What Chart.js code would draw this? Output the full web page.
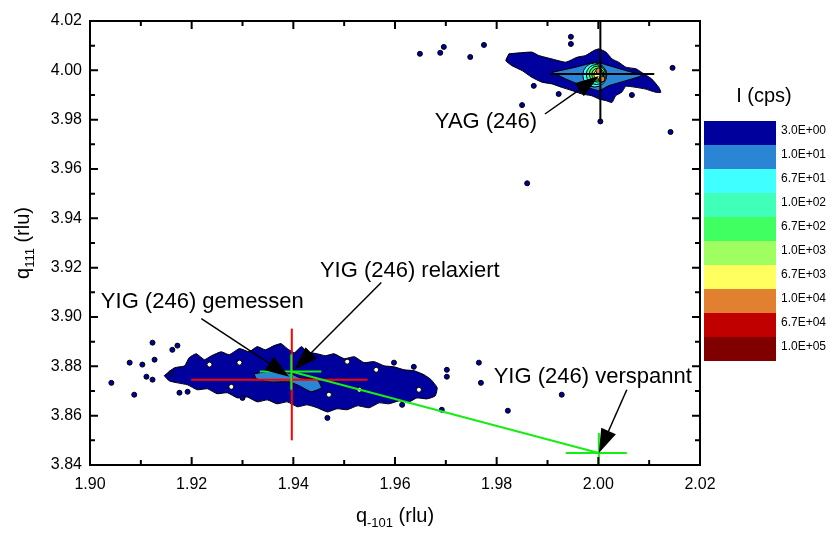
<!DOCTYPE html>
<html>
<head>
<meta charset="utf-8">
<script src="https://cdn.jsdelivr.net/npm/chart.js@4.4.1/dist/chart.umd.min.js"></script>
<style>
  html, body { margin: 0; padding: 0; background: #fff; }
  #wrap { width: 835px; height: 534px; }
</style>
</head>
<body>
<div id="wrap"><canvas id="rsm" width="835" height="534"></canvas></div>
<script>
// axes
const xTickValues = [1.90, 1.92, 1.94, 1.96, 1.98, 2.00, 2.02];
const xTickLabels = ['1.90', '1.92', '1.94', '1.96', '1.98', '2.00', '2.02'];
const yTickValues = [3.84, 3.86, 3.88, 3.90, 3.92, 3.94, 3.96, 3.98, 4.00, 4.02];
const yTickLabels = ['3.84', '3.86', '3.88', '3.90', '3.92', '3.94', '3.96', '3.98', '4.00', '4.02'];

// intensity levels (colour scale)
const levelLabels = ['3.0E+00', '1.0E+01', '6.7E+01', '1.0E+02', '6.7E+02', '1.0E+03', '6.7E+03', '1.0E+04', '6.7E+04', '1.0E+05'];
const levelColors = ['#00009c', '#2a85d4', '#40ffff', '#40ffb8', '#40ff60', '#a0ff60', '#ffff60', '#e08030', '#c00000', '#800000'];

// contour outlines (q-101, q111)
const yigOuter = [
  [1.9146,3.8762],[1.9166,3.8794],[1.9186,3.8802],[1.9195,3.8835],[1.9209,3.8851],[1.9225,3.8827],
  [1.9239,3.8843],[1.9258,3.8859],[1.9274,3.8847],[1.9294,3.8872],[1.9313,3.8859],[1.9329,3.8880],
  [1.9345,3.8867],[1.9362,3.8884],[1.9376,3.8892],[1.9388,3.8872],[1.9402,3.8855],[1.9416,3.8880],
  [1.9427,3.8859],[1.9447,3.8851],[1.9463,3.8843],[1.9480,3.8851],[1.9500,3.8831],[1.9520,3.8839],
  [1.9539,3.8815],[1.9559,3.8819],[1.9579,3.8802],[1.9598,3.8798],[1.9618,3.8786],[1.9638,3.8782],
  [1.9657,3.8766],[1.9671,3.8746],[1.9683,3.8713],[1.9679,3.8680],[1.9663,3.8668],[1.9643,3.8672],
  [1.9628,3.8656],[1.9608,3.8660],[1.9588,3.8648],[1.9569,3.8652],[1.9549,3.8632],[1.9526,3.8640],
  [1.9506,3.8624],[1.9486,3.8628],[1.9467,3.8615],[1.9447,3.8632],[1.9427,3.8644],[1.9408,3.8636],
  [1.9388,3.8656],[1.9368,3.8648],[1.9349,3.8664],[1.9329,3.8656],[1.9309,3.8676],[1.9290,3.8672],
  [1.9270,3.8693],[1.9250,3.8689],[1.9231,3.8709],[1.9211,3.8705],[1.9192,3.8725],[1.9172,3.8733],
  [1.9156,3.8741]
];
const yigInner = [
  [1.9323,3.8770],[1.9362,3.8782],[1.9396,3.8770],[1.9412,3.8754],[1.9447,3.8746],[1.9455,3.8713],
  [1.9435,3.8697],[1.9412,3.8721],[1.9392,3.8737],[1.9353,3.8737],[1.9327,3.8750]
];
const yagOuter = [
  [1.9824,4.0067],[1.9869,4.0074],[1.9883,4.0060],[1.9909,4.0046],[1.9936,4.0033],[1.9958,4.0053],
  [1.9975,4.0060],[1.9991,4.0080],[2.0001,4.0087],[2.0015,4.0074],[2.0027,4.0046],[2.0040,4.0033],
  [2.0054,4.0013],[2.0074,4.0006],[2.0085,3.9992],[2.0105,3.9965],[2.0119,3.9931],[2.0123,3.9911],
  [2.0113,3.9911],[2.0093,3.9924],[2.0074,3.9931],[2.0054,3.9935],[2.0046,3.9911],[2.0034,3.9897],
  [2.0027,3.9870],[2.0015,3.9877],[2.0001,3.9884],[1.9987,3.9897],[1.9968,3.9904],[1.9948,3.9918],
  [1.9928,3.9931],[1.9909,3.9945],[1.9889,3.9952],[1.9869,3.9972],[1.9850,3.9999],[1.9830,4.0019],
  [1.9818,4.0039]
];
const yagInner = [
  [1.9909,3.9992],[1.9956,4.0013],[1.9995,4.0033],[2.0021,4.0019],[2.0054,3.9999],[2.0085,3.9979],
  [2.0054,3.9958],[2.0021,3.9938],[2.0001,3.9918],[1.9968,3.9938],[1.9936,3.9965]
];
// peak centre of YAG: levels 3..7, then the hot spots
const yagPeak = [[1.9993,3.9981],[1.9996,3.9983],[1.9998,3.9985],[1.9999,3.9984],[2.0000,3.9983]];
const yagHot = [[2.0001,3.9998],[2.0007,3.9965]];

// isolated islands of the lowest level
const specks = [
  [1.9123,3.8896],[1.9172,3.8884],[1.9162,3.8867],[1.9078,3.8815],[1.9103,3.8807],[1.9127,3.8827],
  [1.9111,3.8758],[1.9123,3.8746],[1.9160,3.8774],[1.9042,3.8733],[1.9087,3.8685],[1.9176,3.8693],
  [1.9192,3.8697],[1.9300,3.8672],[1.9598,3.8815],[1.9637,3.8798],[1.9702,3.8786],[1.9702,3.8758],
  [1.9614,3.8644],[1.9692,3.8624],[1.9467,3.8591],[1.9765,3.8815],[1.9769,3.8733],[1.9822,3.8620],
  [1.9928,3.8685],
  [1.9649,4.0067],[1.9689,4.0071],[1.9696,4.0095],[1.9748,4.0054],[1.9775,4.0103],[1.9850,3.9859],
  [1.9860,3.9542],[1.9946,4.0136],[1.9946,4.0107],[2.0146,4.0010],[2.0142,3.9750],[2.0004,3.9793],
  [1.9873,3.9937],[1.9922,3.9904],[2.0066,3.9900]
];
const holes = [
  [1.9506,3.8819],[1.9563,3.8786],[1.9278,3.8717],[1.9235,3.8807],[1.9294,3.8815],[1.9470,3.8685],
  [1.9647,3.8705],[1.9530,3.8705]
];

// peak markers
const redH = [[1.9199,3.8746],[1.9546,3.8746]];
const redV = [[1.9397,3.8500],[1.9397,3.8953]];
const relaxH = [[1.9334,3.8779],[1.9455,3.8779]];
const relaxV = [[1.9396,3.8705],[1.9396,3.8849]];
const strainLine = [[1.9396,3.8779],[2.0001,3.8449]];
const strainH = [[1.9936,3.8449],[2.0056,3.8449]];
const strainV = [[2.0001,3.8400],[2.0001,3.8530]];
const yagH = [[1.9906,3.9985],[2.0110,3.9985]];
const yagV = [[2.0004,3.9796],[2.0004,4.0200]];

// annotations
const notes = [
  { text: 'YAG (246)', at: [1.9779, 3.9790], from: [1.9895, 3.9823], to: [2.0001, 3.9977] },
  { text: 'YIG (246) relaxiert', at: [1.9629, 3.9185], from: [1.9573, 3.9140], to: [1.9402, 3.8786] },
  { text: 'YIG (246) gemessen', at: [1.9221, 3.9063], from: [1.9219, 3.8993], to: [1.9392, 3.8758] },
  { text: 'YIG (246) verspannt', at: [1.9989, 3.8758], from: [2.0056, 3.8705], to: [2.0001, 3.8449] }
];

const FONT = '"Liberation Sans", Arial, sans-serif';
const pts = arr => arr.map(p => ({ x: p[0], y: p[1] }));
const closed = arr => pts(arr.concat([arr[0]]));

function area(data, fillColor) {
  return { data: closed(data), showLine: true, fill: 'shape', backgroundColor: fillColor,
           borderColor: '#000', borderWidth: 1, pointRadius: 0, tension: 0.15 };
}
function seg(data, color, w) {
  return { data: pts(data), showLine: true, fill: false, borderColor: color, borderWidth: w || 2,
           pointRadius: 0, tension: 0 };
}
function dots(data, fillColor, r) {
  return { data: pts(data), showLine: false, pointRadius: r, pointBackgroundColor: fillColor,
           pointBorderColor: '#000', pointBorderWidth: 1 };
}

// drawing sequence, bottom first
const layers = [
  area(yigOuter, levelColors[0]),
  dots(specks, levelColors[0], 2.5),
  dots(holes, '#ffffff', 2.5),
  area(yigInner, levelColors[1]),
  area(yagOuter, levelColors[0]),
  area(yagInner, levelColors[1]),
  dots([yagPeak[0]], levelColors[2], 12),
  dots([yagPeak[1]], levelColors[3], 10),
  dots([yagPeak[2]], levelColors[4], 8),
  dots([yagPeak[3]], levelColors[5], 6),
  dots([yagPeak[4]], levelColors[6], 4.5),
  dots(yagHot, levelColors[7], 3),
  seg(yagH, '#000'),
  seg(yagV, '#000'),
  seg(redH, '#ff0000'),
  seg(redV, '#ff0000'),
  seg(strainLine, '#14ee14'),
  seg(relaxH, '#14ee14'),
  seg(relaxV, '#14ee14'),
  seg(strainH, '#14ee14'),
  seg(strainV, '#14ee14')
];
layers.forEach((d, i) => { d.order = layers.length - i; });

function drawText(ctx, parts, cx, cy, size) {
  let w = 0;
  parts.forEach(p => {
    ctx.font = (p.sub ? Math.round(size * 0.65) : size) + 'px ' + FONT;
    p.w = ctx.measureText(p.t).width;
    w += p.w;
  });
  let x = cx - w / 2;
  parts.forEach(p => {
    ctx.font = (p.sub ? Math.round(size * 0.65) : size) + 'px ' + FONT;
    ctx.fillText(p.t, x, p.sub ? cy + size * 0.35 : cy);
    x += p.w;
  });
}

const overlay = {
  id: 'overlay',
  afterDatasetsDraw(chart) {
    const { ctx, scales: { x, y } } = chart;
    ctx.save();
    ctx.fillStyle = '#000';
    ctx.strokeStyle = '#000';
    notes.forEach(n => {
      const x0 = x.getPixelForValue(n.from[0]), y0 = y.getPixelForValue(n.from[1]);
      const x1 = x.getPixelForValue(n.to[0]), y1 = y.getPixelForValue(n.to[1]);
      const a = Math.atan2(y1 - y0, x1 - x0);
      const hl = 24, hw = 8;
      const bx = x1 - hl * Math.cos(a), by = y1 - hl * Math.sin(a);
      ctx.lineWidth = 1.5;
      ctx.beginPath();
      ctx.moveTo(x0, y0);
      ctx.lineTo(bx, by);
      ctx.stroke();
      ctx.beginPath();
      ctx.moveTo(x1, y1);
      ctx.lineTo(bx + hw * Math.sin(a), by - hw * Math.cos(a));
      ctx.lineTo(bx - hw * Math.sin(a), by + hw * Math.cos(a));
      ctx.closePath();
      ctx.fill();
      ctx.font = '22px ' + FONT;
      ctx.textAlign = 'center';
      ctx.textBaseline = 'middle';
      ctx.fillText(n.text, x.getPixelForValue(n.at[0]), y.getPixelForValue(n.at[1]));
    });
    ctx.restore();
  },
  afterDraw(chart) {
    const { ctx, chartArea: a, scales: { x, y } } = chart;
    ctx.save();
    ctx.strokeStyle = '#000';
    ctx.lineWidth = 2;
    // inward ticks on all four sides, minor halfway
    const tick = (px, len, vertical) => {
      ctx.beginPath();
      if (vertical) {
        ctx.moveTo(px, a.bottom); ctx.lineTo(px, a.bottom - len);
        ctx.moveTo(px, a.top); ctx.lineTo(px, a.top + len);
      } else {
        ctx.moveTo(a.left, px); ctx.lineTo(a.left + len, px);
        ctx.moveTo(a.right, px); ctx.lineTo(a.right - len, px);
      }
      ctx.stroke();
    };
    xTickValues.forEach((v, i) => {
      tick(x.getPixelForValue(v), 8, true);
      if (i > 0) tick(x.getPixelForValue((v + xTickValues[i - 1]) / 2), 5, true);
    });
    yTickValues.forEach((v, i) => {
      tick(y.getPixelForValue(v), 8, false);
      if (i > 0) tick(y.getPixelForValue((v + yTickValues[i - 1]) / 2), 5, false);
    });
    ctx.strokeRect(a.left, a.top, a.right - a.left, a.bottom - a.top);

    // axis titles
    ctx.fillStyle = '#000';
    ctx.textAlign = 'left';
    ctx.textBaseline = 'middle';
    drawText(ctx, [{ t: 'q' }, { t: '-101', sub: true }, { t: ' (rlu)' }], (a.left + a.right) / 2, 516, 20);
    ctx.save();
    ctx.translate(23, (a.top + a.bottom) / 2);
    ctx.rotate(-Math.PI / 2);
    drawText(ctx, [{ t: 'q' }, { t: '111', sub: true }, { t: ' (rlu)' }], 0, 0, 20);
    ctx.restore();

    // colour scale
    const bx = 704, bw = 72, top = 121, bh = 24;
    levelColors.forEach((c, i) => {
      ctx.fillStyle = c;
      ctx.fillRect(bx, top + i * bh, bw, bh);
    });
    ctx.fillStyle = '#000';
    ctx.font = '12px ' + FONT;
    ctx.textAlign = 'left';
    levelLabels.forEach((t, i) => ctx.fillText(t, 781, top + i * bh + 10));
    ctx.font = '20px ' + FONT;
    ctx.textAlign = 'center';
    ctx.fillText('I (cps)', 764, 96);
    ctx.restore();
  }
};

new Chart(document.getElementById('rsm'), {
  type: 'scatter',
  data: { datasets: layers },
  options: {
    responsive: false,
    devicePixelRatio: 1,
    animation: false,
    layout: { padding: { left: 0, top: 21, right: 135, bottom: 0 } },
    plugins: { legend: { display: false }, tooltip: { enabled: false } },
    scales: {
      x: {
        type: 'linear', min: 1.90, max: 2.02,
        afterBuildTicks: s => { s.ticks = xTickValues.map(v => ({ value: v })); },
        afterFit: s => { s.height = 69; },
        grid: { display: false, drawTicks: false },
        border: { display: false },
        ticks: { padding: 10, color: '#000', font: { size: 16, family: FONT },
                 callback: (v, i) => xTickLabels[i] }
      },
      y: {
        type: 'linear', min: 3.84, max: 4.02,
        afterBuildTicks: s => { s.ticks = yTickValues.map(v => ({ value: v })); },
        afterFit: s => { s.width = 90; },
        grid: { display: false, drawTicks: false },
        border: { display: false },
        ticks: { padding: 8, color: '#000', font: { size: 16, family: FONT },
                 callback: (v, i) => yTickLabels[i] }
      }
    }
  },
  plugins: [overlay]
});
</script>
</body>
</html>
